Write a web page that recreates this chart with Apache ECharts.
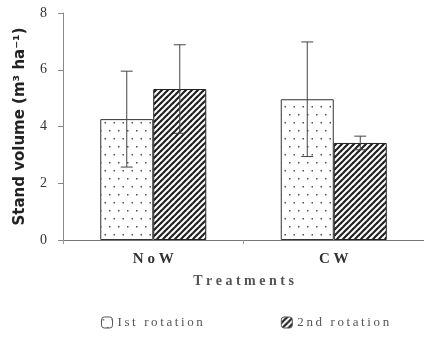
<!DOCTYPE html>
<html><head><meta charset="utf-8">
<script src="https://cdn.jsdelivr.net/npm/echarts@6/dist/echarts.min.js"></script>
<style>html,body{margin:0;padding:0;background:#fff}#c{width:424px;height:337px}</style>
</head><body><div id="c"></div>
<script>
var categories = ['NoW', 'CW'];
var seriesNames = ['Ist rotation', '2nd rotation'];
var rot1 = [4.26, 4.96];
var rot2 = [5.32, 3.42];
var rot1Err = [1.69, 2.02];
var rot2Err = [1.56, 0.24];
var yTicks = [0, 2, 4, 6, 8];

function spaced(s){ return s.split('').join(' '); }
function thin(s){ return s.split('').join('\u2009'); }

function dotPattern(){
  var c = document.createElement('canvas'); c.width = 9; c.height = 16;
  var g = c.getContext('2d');
  g.fillStyle = '#fff'; g.fillRect(0,0,9,16);
  g.fillStyle = '#555';
  g.fillRect(1,2,1.5,1.5); g.fillRect(5.5,10,1.5,1.5);
  return c;
}
function hatchPattern(){
  var s = 6;
  var c = document.createElement('canvas'); c.width = s; c.height = s;
  var g = c.getContext('2d');
  g.fillStyle = '#fff'; g.fillRect(0,0,s,s);
  g.strokeStyle = '#222'; g.lineWidth = 2.2;
  for (var k = -1; k <= 1; k++) {
    g.beginPath(); g.moveTo(k*s - 1, s + 1); g.lineTo(k*s + s + 1, -1); g.stroke();
  }
  return c;
}
var BW = 53;
function errSeries(vals, errs, side){
  return {
    type: 'custom', silent: true, z: 10,
    data: vals.map(function(v,i){ return [i, v - errs[i], v + errs[i]]; }),
    renderItem: function(params, api){
      var lo = api.coord([api.value(0), api.value(1)]);
      var hi = api.coord([api.value(0), api.value(2)]);
      var x = lo[0] + side * BW / 2;
      var cap = 6;
      var st = {stroke: '#444', lineWidth: 1};
      return {type: 'group', children: [
        {type: 'line', shape: {x1: x, y1: lo[1], x2: x, y2: hi[1]}, style: st},
        {type: 'line', shape: {x1: x-cap, y1: hi[1], x2: x+cap, y2: hi[1]}, style: st},
        {type: 'line', shape: {x1: x-cap, y1: lo[1], x2: x+cap, y2: lo[1]}, style: st}
      ]};
    }
  };
}
var p1 = {image: dotPattern(), repeat: 'repeat'};
var p2 = {image: hatchPattern(), repeat: 'repeat'};
var chart = echarts.init(document.getElementById('c'));
chart.setOption({
  animation: false,
  grid: {left: 63, width: 370, top: 13, bottom: 97},
  legend: {
    bottom: 3, left: 96, itemGap: 78, itemWidth: 11, itemHeight: 11,
    formatter: thin,
    textStyle: {fontFamily: 'Liberation Serif', fontSize: 13, color: '#555'},
    data: seriesNames.map(function(n, i){
      return {name: n, itemStyle: {color: i ? p2 : p1, borderColor: '#555', borderWidth: 1}};
    })
  },
  xAxis: {
    type: 'category', data: categories,
    name: spaced('Treatments'), nameLocation: 'middle', nameGap: 34,
    nameTextStyle: {fontFamily: 'Liberation Serif', fontWeight: 'bold', fontSize: 14, color: '#555'},
    axisLine: {lineStyle: {color: '#777'}},
    axisTick: {show: true, alignWithLabel: false, length: 4, lineStyle: {color: '#999'}},
    axisLabel: {formatter: spaced, margin: 12, fontFamily: 'Liberation Serif', fontWeight: 'bold', fontSize: 15, color: '#333'}
  },
  yAxis: {
    type: 'value', min: 0, max: 8, interval: 2,
    name: 'Stand volume (m³ ha⁻¹)', nameLocation: 'middle', nameGap: 35,
    nameTextStyle: {fontFamily: 'DejaVu Sans', fontWeight: 'bold', fontSize: 15, color: '#222'},
    axisLine: {show: true, lineStyle: {color: '#888'}},
    axisTick: {show: true, length: 5, lineStyle: {color: '#888'}},
    splitLine: {show: false},
    axisLabel: {margin: 16, fontFamily: 'Liberation Serif', fontSize: 14, color: '#333',
      formatter: function(v){ return yTicks.indexOf(v) >= 0 ? String(v) : ''; }}
  },
  series: [
    {name: seriesNames[0], type: 'bar', data: rot1, barWidth: BW, barGap: '0%',
     itemStyle: {color: p1, borderColor: '#333', borderWidth: 1}},
    {name: seriesNames[1], type: 'bar', data: rot2, barWidth: BW, barGap: '0%',
     itemStyle: {color: p2, borderColor: '#222', borderWidth: 1}},
    errSeries(rot1, rot1Err, -1),
    errSeries(rot2, rot2Err, 1)
  ]
});
</script></body></html>
